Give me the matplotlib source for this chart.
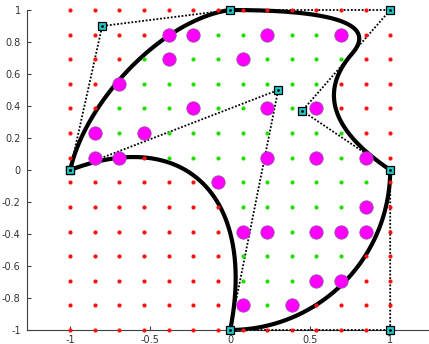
import numpy as np
import matplotlib
matplotlib.use('Agg')
import matplotlib.pyplot as plt
from matplotlib.path import Path

# control polygon of the closed boundary
ctrl_x = [-1.0, -0.8, 0.0, 1.0, 0.45, 1.0, 1.0, 0.0, 0.3, -1.0]
ctrl_y = [0.0, 0.9, 1.0, 1.0, 0.37, 0.0, -1.0, -1.0, 0.5, 0.0]
# weight of every control point
weights = [1.0, 0.6, 1.0, 1.0, 1.0, 1.0, 0.7071, 1.0, 0.7071, 1.0]
# knot position on the span (1,1)-(0.45,0.37)
split = 0.436

# test grid
n_grid = 14
# sample points picked from the grid (column, row)
mark_col = [4, 5, 8, 11, 4, 7, 2, 5, 8, 10, 1, 3, 1, 2, 8, 10, 12, 6,
            12, 7, 8, 10, 11, 12, 10, 11, 7, 9]
mark_row = [12, 12, 12, 12, 11, 11, 10, 9, 9, 9, 8, 8, 7, 7, 7, 7, 7, 6,
            5, 4, 4, 4, 4, 4, 2, 2, 1, 1]

xticks = [-1, -0.5, 0, 0.5, 1]
yticks = [-1, -0.8, -0.6, -0.4, -0.2, 0, 0.2, 0.4, 0.6, 0.8, 1]


def rquad(p0, p1, p2, w, n=300):
    t = np.linspace(0, 1, n)[:, None]
    b0 = (1 - t) ** 2
    b1 = 2 * t * (1 - t) * w
    b2 = t ** 2
    return (b0 * p0 + b1 * p1 + b2 * p2) / (b0 + b1 + b2)


P = np.column_stack([ctrl_x, ctrl_y])
J = P[3] + split * (P[4] - P[3])
pieces = [
    (P[0], P[1], P[2], weights[1]),
    (P[2], P[3], J, weights[3]),
    (J, P[4], P[5], weights[4]),
    (P[5], P[6], P[7], weights[6]),
    (P[7], P[8], P[9], weights[8]),
]
curve = np.vstack([rquad(*pc) for pc in pieces])

g = np.linspace(-1, 1, n_grid)
gx, gy = np.meshgrid(g, g)
pts = np.column_stack([gx.ravel(), gy.ravel()])
inside = Path(curve).contains_points(pts)

fig = plt.figure(figsize=(4.29, 3.44), dpi=100)
ax = fig.add_axes([27 / 429, 14 / 344, 406.4 / 429, 320 / 344])

ax.plot(curve[:, 0], curve[:, 1], color='k', lw=3.0, solid_joinstyle='round',
        clip_on=False, zorder=2)
ax.plot(ctrl_x, ctrl_y, color='k', lw=1.3, linestyle=(0, (1, 1)),
        clip_on=False, zorder=3)
ax.plot(pts[~inside, 0], pts[~inside, 1], 'o', color='#ff1010', ms=3.0,
        mew=0, clip_on=False, zorder=4)
ax.plot(pts[inside, 0], pts[inside, 1], 'o', color='#22dd00', ms=3.0,
        mew=0, clip_on=False, zorder=4)
ax.plot(g[mark_col], g[mark_row], 'o', color='#ff00ff', mec='#9a4aa8',
        mew=0.6, ms=9.6, clip_on=False, zorder=5)
ax.plot(ctrl_x, ctrl_y, 's', color='#1cc8c8', mec='k', mew=0.9, ms=6,
        clip_on=False, zorder=6)
ax.plot(ctrl_x, ctrl_y, '.', color='k', ms=2, clip_on=False, zorder=7)

ax.set_xlim(-1.27, 1.27)
ax.set_ylim(-1, 1)
ax.set_xticks(xticks)
ax.set_yticks(yticks)
ax.set_xticklabels(['%g' % v for v in xticks])
ax.set_yticklabels(['%g' % v for v in yticks])
for s in ['top', 'right']:
    ax.spines[s].set_visible(False)
for s in ['left', 'bottom']:
    ax.spines[s].set_color('#404040')
    ax.spines[s].set_linewidth(0.8)
ax.tick_params(direction='in', length=3, width=0.8, color='#404040',
               labelcolor='#333333', labelsize=7)
ax.tick_params(axis='y', pad=4.5)
ax.tick_params(axis='x', pad=3.5)

fig.savefig('out.png', dpi=100)
